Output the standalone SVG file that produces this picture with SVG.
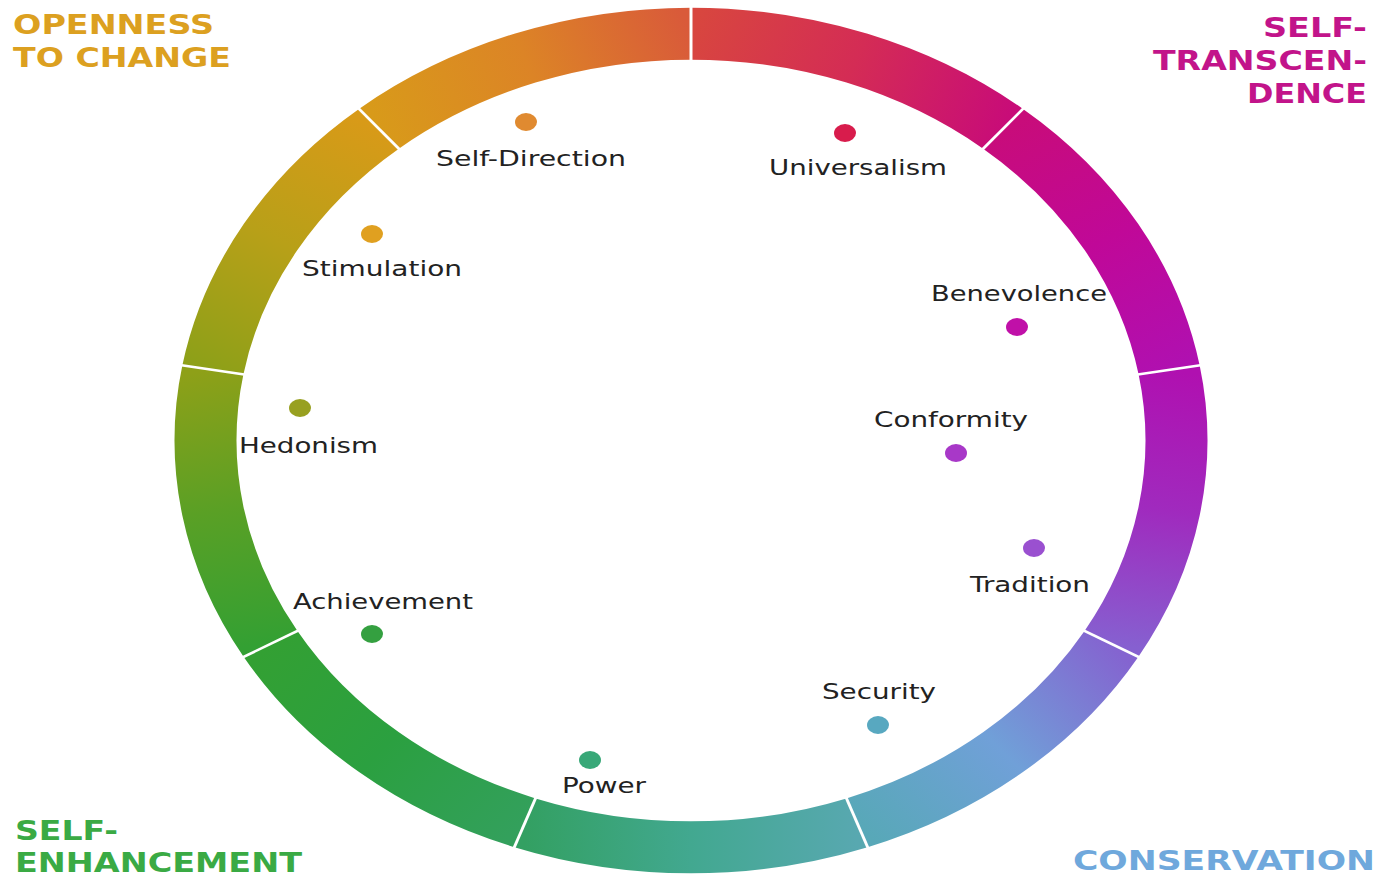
<svg xmlns="http://www.w3.org/2000/svg" width="1379" height="876" viewBox="0 0 1379 876">
  <defs>
    <!-- one gradient per 40-degree ring segment, running along the segment chord -->
    <linearGradient id="g1" gradientUnits="userSpaceOnUse" x1="0" y1="-485.5" x2="312.1" y2="-371.9">
      <stop offset="0" stop-color="#d8463f"/><stop offset="0.5" stop-color="#d42c55"/><stop offset="1" stop-color="#c80c78"/>
    </linearGradient>
    <linearGradient id="g2" gradientUnits="userSpaceOnUse" x1="312.1" y1="-371.9" x2="478.1" y2="-84.3">
      <stop offset="0" stop-color="#c80c7a"/><stop offset="0.5" stop-color="#c00898"/><stop offset="1" stop-color="#b010b0"/>
    </linearGradient>
    <linearGradient id="g3" gradientUnits="userSpaceOnUse" x1="478.1" y1="-84.3" x2="420.4" y2="242.75">
      <stop offset="0" stop-color="#b010b0"/><stop offset="0.5" stop-color="#a02abe"/><stop offset="1" stop-color="#8660d0"/>
    </linearGradient>
    <linearGradient id="g4" gradientUnits="userSpaceOnUse" x1="420.4" y1="242.75" x2="166" y2="456.2">
      <stop offset="0" stop-color="#8464d0"/><stop offset="0.5" stop-color="#70a0d8"/><stop offset="1" stop-color="#58a8b8"/>
    </linearGradient>
    <linearGradient id="g5" gradientUnits="userSpaceOnUse" x1="166" y1="456.2" x2="-166" y2="456.2">
      <stop offset="0" stop-color="#58a8b0"/><stop offset="0.5" stop-color="#42a890"/><stop offset="1" stop-color="#33a062"/>
    </linearGradient>
    <linearGradient id="g6" gradientUnits="userSpaceOnUse" x1="-166" y1="456.2" x2="-420.4" y2="242.75">
      <stop offset="0" stop-color="#33a05c"/><stop offset="0.5" stop-color="#2ba040"/><stop offset="1" stop-color="#33a033"/>
    </linearGradient>
    <linearGradient id="g7" gradientUnits="userSpaceOnUse" x1="-420.4" y1="242.75" x2="-478.1" y2="-84.3">
      <stop offset="0" stop-color="#33a033"/><stop offset="0.5" stop-color="#5aa025"/><stop offset="1" stop-color="#8ea018"/>
    </linearGradient>
    <linearGradient id="g8" gradientUnits="userSpaceOnUse" x1="-478.1" y1="-84.3" x2="-312.1" y2="-371.9">
      <stop offset="0" stop-color="#8ea018"/><stop offset="0.5" stop-color="#b8a018"/><stop offset="1" stop-color="#d89a18"/>
    </linearGradient>
    <linearGradient id="g9" gradientUnits="userSpaceOnUse" x1="-312.1" y1="-371.9" x2="0" y2="-485.5">
      <stop offset="0" stop-color="#d89a1a"/><stop offset="0.5" stop-color="#dc8426"/><stop offset="1" stop-color="#d95a3a"/>
    </linearGradient>
  </defs>
  <style>
    .seg { fill: none; stroke-width: 62; }
    .div { stroke: #ffffff; stroke-width: 3; }
    .label { font-family: "DejaVu Sans", Verdana, sans-serif; font-size: 21px; fill: #222222; }
    .head { font-family: "DejaVu Sans", Verdana, sans-serif; font-weight: bold; font-size: 27px; }
  </style>

  <rect width="1379" height="876" fill="#ffffff"/>

  <!-- colour ring: drawn as a circle, squashed vertically -->
  <g id="ring" transform="translate(691,440.5) scale(1,0.838)">
    <path class="seg" stroke="url(#g1)" d="M0,-485.5 A485.5,485.5 0 0 1 312.1,-371.9"/>
    <path class="seg" stroke="url(#g2)" d="M312.1,-371.9 A485.5,485.5 0 0 1 478.1,-84.3"/>
    <path class="seg" stroke="url(#g3)" d="M478.1,-84.3 A485.5,485.5 0 0 1 420.4,242.75"/>
    <path class="seg" stroke="url(#g4)" d="M420.4,242.75 A485.5,485.5 0 0 1 166,456.2"/>
    <path class="seg" stroke="url(#g5)" d="M166,456.2 A485.5,485.5 0 0 1 -166,456.2"/>
    <path class="seg" stroke="url(#g6)" d="M-166,456.2 A485.5,485.5 0 0 1 -420.4,242.75"/>
    <path class="seg" stroke="url(#g7)" d="M-420.4,242.75 A485.5,485.5 0 0 1 -478.1,-84.3"/>
    <path class="seg" stroke="url(#g8)" d="M-478.1,-84.3 A485.5,485.5 0 0 1 -312.1,-371.9"/>
    <path class="seg" stroke="url(#g9)" d="M-312.1,-371.9 A485.5,485.5 0 0 1 0,-485.5"/>
    <g id="dividers">
      <line class="div" x1="0" y1="-452" x2="0" y2="-519"/>
      <line class="div" x1="290.5" y1="-346.2" x2="333.6" y2="-397.6"/>
      <line class="div" x1="445.1" y1="-78.5" x2="511.1" y2="-90.1"/>
      <line class="div" x1="391.4" y1="226" x2="449.5" y2="259.5"/>
      <line class="div" x1="154.6" y1="424.7" x2="177.5" y2="487.7"/>
      <line class="div" x1="-154.6" y1="424.7" x2="-177.5" y2="487.7"/>
      <line class="div" x1="-391.4" y1="226" x2="-449.5" y2="259.5"/>
      <line class="div" x1="-445.1" y1="-78.5" x2="-511.1" y2="-90.1"/>
      <line class="div" x1="-290.5" y1="-346.2" x2="-333.6" y2="-397.6"/>
    </g>
  </g>

  <!-- connectors: none in this chart -->
  <g id="connectors"/>

  <!-- value nodes -->
  <g id="self-direction">
    <ellipse cx="526" cy="122" rx="11" ry="9" fill="#e08a30"/>
    <text class="label" x="436" y="166" textLength="190" lengthAdjust="spacingAndGlyphs">Self-Direction</text>
  </g>
  <g id="universalism">
    <ellipse cx="845" cy="133" rx="11" ry="9" fill="#d81c4c"/>
    <text class="label" x="769" y="175" textLength="178" lengthAdjust="spacingAndGlyphs">Universalism</text>
  </g>
  <g id="benevolence">
    <ellipse cx="1017" cy="327" rx="11" ry="9" fill="#c010a8"/>
    <text class="label" x="931" y="301" textLength="176" lengthAdjust="spacingAndGlyphs">Benevolence</text>
  </g>
  <g id="conformity">
    <ellipse cx="956" cy="453" rx="11" ry="9" fill="#a838c8"/>
    <text class="label" x="874" y="427" textLength="154" lengthAdjust="spacingAndGlyphs">Conformity</text>
  </g>
  <g id="tradition">
    <ellipse cx="1034" cy="548" rx="11" ry="9" fill="#9a50d0"/>
    <text class="label" x="970" y="592" textLength="120" lengthAdjust="spacingAndGlyphs">Tradition</text>
  </g>
  <g id="security">
    <ellipse cx="878" cy="725" rx="11" ry="9" fill="#58a8c0"/>
    <text class="label" x="822" y="699" textLength="114" lengthAdjust="spacingAndGlyphs">Security</text>
  </g>
  <g id="power">
    <ellipse cx="590" cy="760" rx="11" ry="9" fill="#38a878"/>
    <text class="label" x="562" y="793" textLength="84" lengthAdjust="spacingAndGlyphs">Power</text>
  </g>
  <g id="achievement">
    <ellipse cx="372" cy="634" rx="11" ry="9" fill="#34a040"/>
    <text class="label" x="293" y="609" textLength="180" lengthAdjust="spacingAndGlyphs">Achievement</text>
  </g>
  <g id="hedonism">
    <ellipse cx="300" cy="408" rx="11" ry="9" fill="#98a020"/>
    <text class="label" x="239" y="453" textLength="139" lengthAdjust="spacingAndGlyphs">Hedonism</text>
  </g>
  <g id="stimulation">
    <ellipse cx="372" cy="234" rx="11" ry="9" fill="#e0a020"/>
    <text class="label" x="302" y="276" textLength="160" lengthAdjust="spacingAndGlyphs">Stimulation</text>
  </g>

  <!-- quadrant headings -->
  <g id="openness-to-change" class="head" fill="#dca020">
    <text x="13" y="34" textLength="201" lengthAdjust="spacingAndGlyphs">OPENNESS</text>
    <text x="13" y="67" textLength="218" lengthAdjust="spacingAndGlyphs">TO CHANGE</text>
  </g>
  <g id="self-transcendence" class="head" fill="#c2148a">
    <text x="1263" y="37" textLength="104" lengthAdjust="spacingAndGlyphs">SELF-</text>
    <text x="1153" y="70" textLength="214" lengthAdjust="spacingAndGlyphs">TRANSCEN-</text>
    <text x="1247" y="103" textLength="120" lengthAdjust="spacingAndGlyphs">DENCE</text>
  </g>
  <g id="self-enhancement" class="head" fill="#3aaa44">
    <text x="15" y="840" textLength="103" lengthAdjust="spacingAndGlyphs">SELF-</text>
    <text x="15" y="872" textLength="287" lengthAdjust="spacingAndGlyphs">ENHANCEMENT</text>
  </g>
  <g id="conservation" class="head" fill="#6fa8dc">
    <text x="1073" y="870" textLength="302" lengthAdjust="spacingAndGlyphs">CONSERVATION</text>
  </g>
</svg>
